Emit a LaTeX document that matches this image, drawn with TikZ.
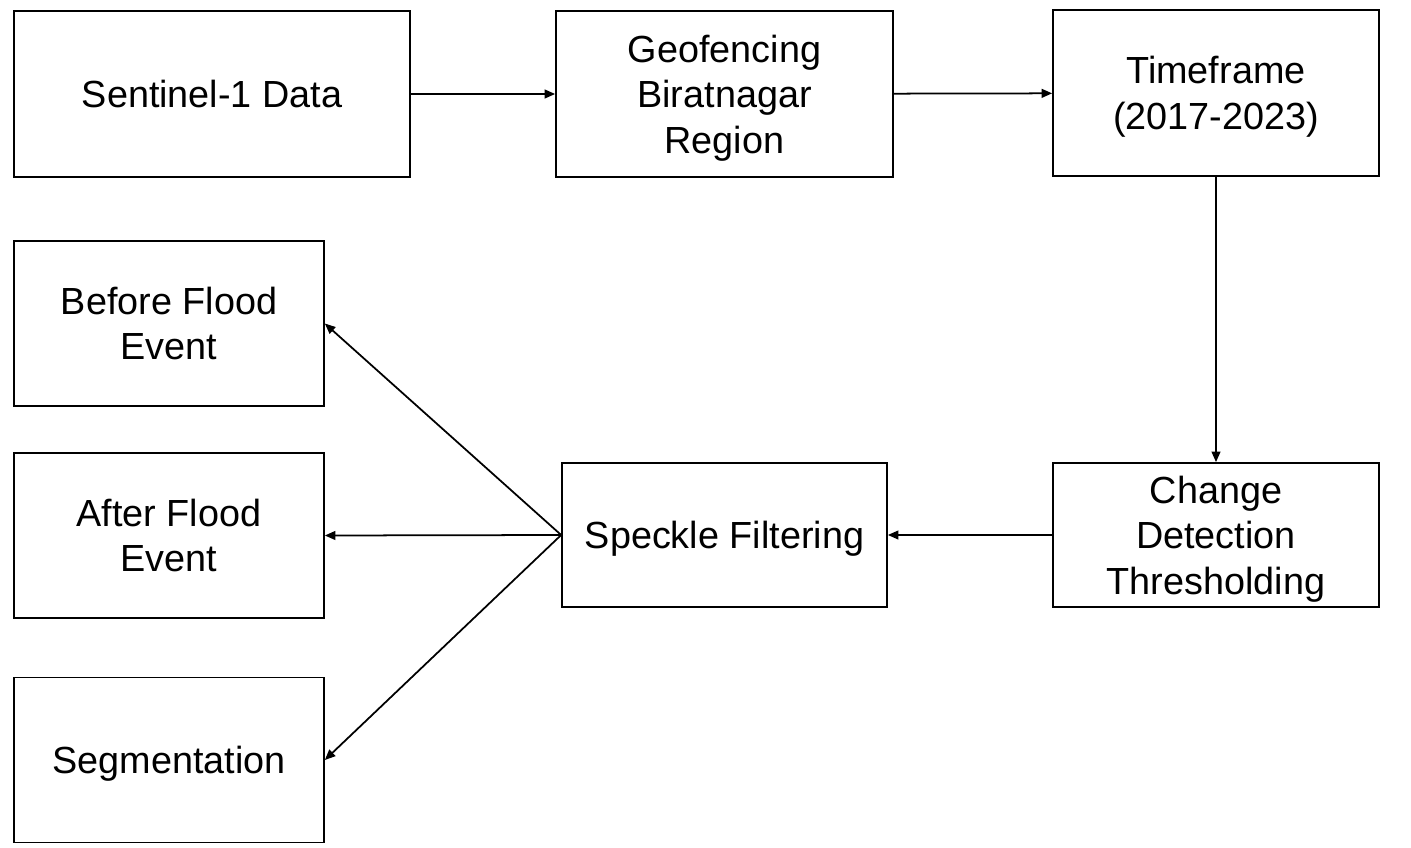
\documentclass[tikz,border=0pt]{standalone}
\usepackage{fontspec}
\setmainfont{Liberation Sans}
\usetikzlibrary{arrows.meta}

\begin{document}
\begin{tikzpicture}[x=0.02cm, y=-0.02cm,
        block/.style={draw=black, line width=1pt, align=center, inner sep=0pt, text depth=0pt, font=\fontsize{21.5}{25.9}\selectfont},
        flow/.style={draw=black, line width=1pt, -{Triangle[length=6pt, width=5pt]}}]
        \useasboundingbox (0, 0) rectangle (1411, 848);

        % top row
        \node (sentinel) at (212, 94)[block, minimum width=7.92cm, minimum height=3.32cm] {Sentinel-1 Data};

        \node (geofence) at (724.5, 94)[block, minimum width=6.74cm, minimum height=3.32cm] {Geofencing \\ Biratnagar \\ Region};

        \node (timeframe) at (1216, 93)[block, minimum width=6.52cm, minimum height=3.32cm] {Timeframe \\ (2017-2023)};

        % middle row
        \node (change) at (1216, 535)[block, minimum width=6.52cm, minimum height=2.88cm] {Change \\ Detection \\ Thresholding};

        \node (speckle) at (724.5, 535)[block, minimum width=6.5cm, minimum height=2.88cm] {Speckle Filtering};

        % outputs
        \node (before) at (169, 323.5)[block, minimum width=6.2cm, minimum height=3.3cm] {Before Flood \\ Event};

        \node (after) at (169, 535.5)[block, minimum width=6.2cm, minimum height=3.3cm] {After Flood \\ Event};

        \node (segment) at (169, 760)[block, minimum width=6.2cm, minimum height=3.3cm] {Segmentation};

        \draw[flow] (sentinel) -- (geofence);
        \draw[flow] (geofence) -- (timeframe);
        \draw[flow] (timeframe) -- (change);
        \draw[flow] (change) -- (speckle);

        \draw[flow] (speckle.west) -- (before.east);
        \draw[flow] (speckle.west) -- (after.east);
        \draw[flow] (speckle.west) -- (segment.east);
    \end{tikzpicture}
\end{document}
